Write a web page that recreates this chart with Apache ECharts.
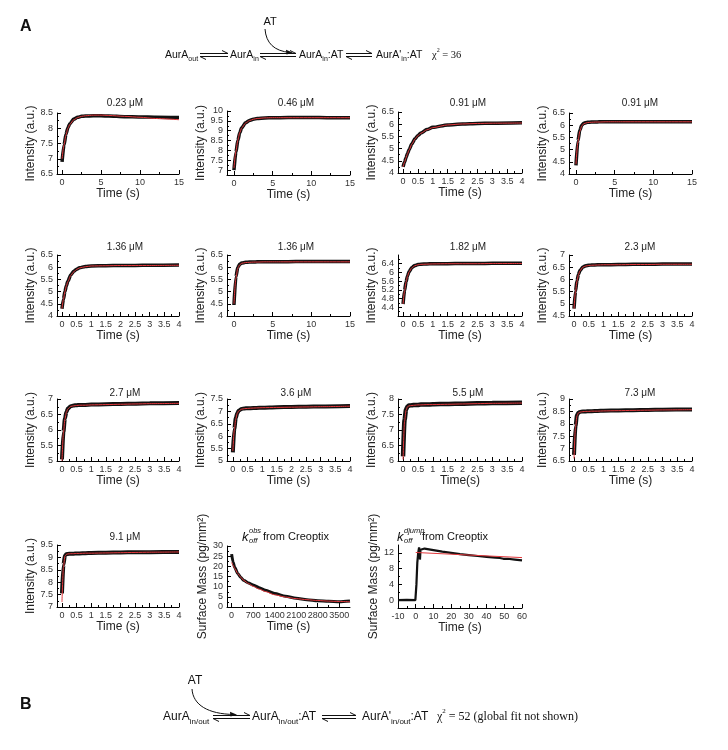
<!DOCTYPE html>
<html><head><meta charset="utf-8">
<script src="https://cdn.jsdelivr.net/npm/echarts@6/dist/echarts.min.js"></script>
<style>html,body{margin:0;padding:0;background:#fff}#c{width:728px;height:750px}</style>
</head><body><div id="c"></div>
<script>
// ---------- time bases ----------
const t15 = [0, 0.25, 0.5, 0.75, 1, 1.5, 2, 2.5, 3, 4, 5, 6, 8, 10, 12, 15];
const t4 = [0, 0.05, 0.1, 0.15, 0.2, 0.3, 0.4, 0.5, 0.6, 0.8, 1, 1.5, 2, 2.5, 3, 4];
const tCreo = [0, 50, 100, 200, 300, 400, 550, 700, 900, 1100, 1400, 1750, 2100, 2450, 2800, 3150, 3500, 3850];
const tJump = [-10, -5, -0.2, 0.4, 0.9, 1.4, 1.9, 2.2, 2.4, 2.7, 3.2, 5, 10, 15, 20, 25, 30, 35, 40, 45, 47.5, 48.5, 49.5, 52, 56, 60];
const tJumpFit = [0, 60];

// ---------- panel titles ----------
const concLabels = ['0.23 μM', '0.46 μM', '0.91 μM', '0.91 μM', '1.36 μM', '1.36 μM', '1.82 μM', '2.3 μM', '2.7 μM', '3.6 μM', '5.5 μM', '7.3 μM', '9.1 μM'];

// ---------- measured traces (black) and fits (red) ----------
const data023 = [6.9, 7.45, 7.8, 8.02, 8.15, 8.3, 8.36, 8.39, 8.4, 8.41, 8.41, 8.4, 8.38, 8.37, 8.36, 8.35];
const fit023  = [7.0, 7.45, 7.78, 8.0, 8.13, 8.28, 8.35, 8.39, 8.41, 8.43, 8.43, 8.42, 8.39, 8.36, 8.32, 8.28];
const data046 = [7.0, 7.9, 8.5, 8.9, 9.15, 9.4, 9.52, 9.58, 9.62, 9.65, 9.66, 9.66, 9.67, 9.67, 9.66, 9.66];
const fit046  = [7.1, 7.95, 8.52, 8.9, 9.14, 9.39, 9.51, 9.58, 9.62, 9.65, 9.66, 9.66, 9.66, 9.66, 9.66, 9.66];
const data091a = [4.25, 4.45, 4.63, 4.8, 4.95, 5.2, 5.4, 5.54, 5.64, 5.78, 5.87, 5.97, 6.01, 6.03, 6.04, 6.06];
const fit091a  = [4.25, 4.44, 4.62, 4.79, 4.94, 5.19, 5.39, 5.53, 5.63, 5.77, 5.86, 5.97, 6.01, 6.03, 6.04, 6.05];
const data091b = [4.35, 5.35, 5.8, 6.0, 6.08, 6.12, 6.13, 6.13, 6.14, 6.14, 6.14, 6.14, 6.14, 6.14, 6.14, 6.14];
const fit091b  = [4.4, 5.3, 5.75, 5.97, 6.06, 6.11, 6.12, 6.13, 6.13, 6.14, 6.14, 6.14, 6.14, 6.14, 6.14, 6.14];
const data136a = [4.3, 4.69, 5.0, 5.24, 5.42, 5.68, 5.83, 5.92, 5.98, 6.03, 6.05, 6.06, 6.07, 6.07, 6.08, 6.09];
const fit136a  = [4.3, 4.68, 4.99, 5.23, 5.41, 5.66, 5.81, 5.91, 5.97, 6.02, 6.05, 6.06, 6.07, 6.07, 6.07, 6.08];
const data136b = [4.45, 5.6, 6.0, 6.12, 6.17, 6.2, 6.21, 6.21, 6.22, 6.22, 6.22, 6.22, 6.23, 6.23, 6.23, 6.23];
const fit136b  = [4.5, 5.55, 5.97, 6.1, 6.16, 6.19, 6.2, 6.21, 6.21, 6.22, 6.22, 6.22, 6.22, 6.22, 6.22, 6.22];
const data182 = [4.55, 5.16, 5.57, 5.84, 6.03, 6.23, 6.32, 6.36, 6.38, 6.39, 6.4, 6.4, 6.41, 6.41, 6.42, 6.42];
const fit182  = [4.55, 5.14, 5.55, 5.83, 6.02, 6.22, 6.31, 6.35, 6.37, 6.38, 6.39, 6.4, 6.4, 6.4, 6.41, 6.41];
const data23 = [4.8, 5.51, 5.94, 6.2, 6.36, 6.51, 6.56, 6.58, 6.59, 6.6, 6.6, 6.61, 6.62, 6.62, 6.63, 6.63];
const fit23  = [4.8, 5.49, 5.92, 6.19, 6.35, 6.5, 6.55, 6.57, 6.58, 6.59, 6.6, 6.6, 6.61, 6.61, 6.62, 6.62];
const data27 = [5.05, 5.93, 6.37, 6.58, 6.69, 6.77, 6.79, 6.8, 6.81, 6.81, 6.82, 6.83, 6.84, 6.85, 6.86, 6.87];
const fit27  = [5.0, 5.9, 6.35, 6.57, 6.68, 6.76, 6.78, 6.79, 6.8, 6.8, 6.81, 6.82, 6.83, 6.84, 6.85, 6.86];
const data36 = [5.35, 6.29, 6.73, 6.93, 7.03, 7.1, 7.12, 7.13, 7.13, 7.14, 7.15, 7.17, 7.18, 7.19, 7.2, 7.22];
const fit36  = [5.4, 6.25, 6.7, 6.92, 7.02, 7.09, 7.11, 7.12, 7.13, 7.14, 7.15, 7.16, 7.17, 7.18, 7.19, 7.21];
const data55 = [6.15, 7.32, 7.66, 7.76, 7.79, 7.8, 7.81, 7.81, 7.82, 7.82, 7.83, 7.84, 7.85, 7.86, 7.87, 7.88];
const fit55  = [6.05, 7.28, 7.64, 7.75, 7.78, 7.79, 7.8, 7.81, 7.81, 7.82, 7.82, 7.83, 7.84, 7.85, 7.86, 7.87];
const data73 = [6.75, 7.9, 8.35, 8.45, 8.48, 8.5, 8.5, 8.51, 8.51, 8.52, 8.53, 8.54, 8.55, 8.56, 8.57, 8.58];
const fit73  = [6.6, 7.85, 8.32, 8.44, 8.47, 8.49, 8.5, 8.5, 8.51, 8.51, 8.52, 8.53, 8.54, 8.55, 8.56, 8.57];
const data91 = [7.55, 8.7, 9.08, 9.13, 9.14, 9.15, 9.15, 9.16, 9.16, 9.17, 9.18, 9.19, 9.2, 9.21, 9.21, 9.22];
const fit91  = [7.2, 8.6, 9.05, 9.12, 9.14, 9.15, 9.15, 9.16, 9.16, 9.17, 9.17, 9.18, 9.19, 9.2, 9.21, 9.22];
const dataCreo = [26, 22, 19.5, 16.5, 14.5, 13, 11.8, 10.8, 9.5, 8.2, 6.6, 5.3, 4.3, 3.6, 3.1, 2.8, 2.6, 3.0];
const fitCreo  = [22, 20.5, 19, 16.5, 14.6, 13, 11.5, 10.2, 8.8, 7.6, 6.0, 4.9, 4.1, 3.6, 3.2, 2.9, 2.7, 2.6];
const dataJump = [0, 0.05, 0, 4, 9.5, 12, 13.4, 12.5, 10.3, 12.8, 13.2, 13.1, 12.7, 12.3, 12.0, 11.7, 11.45, 11.2, 11.0, 10.8, 10.7, 11.1, 10.5, 10.5, 10.3, 10.1];
const fitJump  = [12.1, 10.8];

// ---------- tick labels ----------
const xTicks15 = [0, 5, 10, 15];
const xTicks4 = [0, 0.5, 1, 1.5, 2, 2.5, 3, 3.5, 4];
const xTicksCreo = [0, 700, 1400, 2100, 2800, 3500];
const xTicksJump = [-10, 0, 10, 20, 30, 40, 50, 60];
const yTicks023 = [6.5, 7, 7.5, 8, 8.5];
const yTicks046 = [7, 7.5, 8, 8.5, 9, 9.5, 10];
const yTicks4to65 = [4, 4.5, 5, 5.5, 6, 6.5];
const yTicks182 = [4, 4.4, 4.8, 5.2, 5.6, 6, 6.4, 6.8];
const yTicks23 = [4.5, 5, 5.5, 6, 6.5, 7];
const yTicks27 = [5, 5.5, 6, 6.5, 7];
const yTicks36 = [5, 5.5, 6, 6.5, 7, 7.5];
const yTicks55 = [6, 6.5, 7, 7.5, 8];
const yTicks73 = [6.5, 7, 7.5, 8, 8.5, 9];
const yTicks91 = [7, 7.5, 8, 8.5, 9, 9.5];
const yTicksCreo = [0, 5, 10, 15, 20, 25, 30];
const yTicksJump = [0, 4, 8, 12];

// ---------- layout ----------
const colLeft = [57, 227, 398, 569];
const colRight = [179, 350, 522, 692];
const colTitleX = [125, 296, 468, 640];
const FONT = 'Liberation Sans, Arial, Helvetica, sans-serif';
const SERIF = 'Liberation Serif, Times New Roman, serif';
const INT = 'Intensity (a.u.)';
const SM = 'Surface Mass (pg/mm²)';

const P = [
  {c:0, top:113, bot:174, t:t15, d:data023, f:fit023, xt:xTicks15, xmin:-0.65, xmax:15, yt:yTicks023, ymin:6.5, ymax:8.5, ti:0, ty:103},
  {c:1, top:111, bot:175, t:t15, d:data046, f:fit046, xt:xTicks15, xmin:-0.9, xmax:15, yt:yTicks046, ymin:6.75, ymax:10, ti:1, ty:103},
  {c:2, top:112, bot:173, t:t4, d:data091a, f:fit091a, xt:xTicks4, xmin:-0.17, xmax:4, yt:yTicks4to65, ymin:4, ymax:6.5, ti:2, ty:103},
  {c:3, top:113, bot:174, t:t15, d:data091b, f:fit091b, xt:xTicks15, xmin:-0.9, xmax:15, yt:yTicks4to65, ymin:4, ymax:6.5, ti:3, ty:103},
  {c:0, top:255, bot:316, t:t4, d:data136a, f:fit136a, xt:xTicks4, xmin:-0.17, xmax:4, yt:yTicks4to65, ymin:4, ymax:6.5, ti:4, ty:247},
  {c:1, top:255, bot:316, t:t15, d:data136b, f:fit136b, xt:xTicks15, xmin:-0.9, xmax:15, yt:yTicks4to65, ymin:4, ymax:6.5, ti:5, ty:247},
  {c:2, top:255, bot:316, t:t4, d:data182, f:fit182, xt:xTicks4, xmin:-0.17, xmax:4, yt:yTicks182, ymin:4, ymax:6.8, ti:6, ty:247},
  {c:3, top:255, bot:316, t:t4, d:data23, f:fit23, xt:xTicks4, xmin:-0.17, xmax:4, yt:yTicks23, ymin:4.5, ymax:7, ti:7, ty:247},
  {c:0, top:399, bot:461, t:t4, d:data27, f:fit27, xt:xTicks4, xmin:-0.17, xmax:4, yt:yTicks27, ymin:5, ymax:7, ti:8, ty:393, bw:4},
  {c:1, top:399, bot:461, t:t4, d:data36, f:fit36, xt:xTicks4, xmin:-0.2, xmax:4, yt:yTicks36, ymin:5, ymax:7.5, ti:9, ty:393, bw:4},
  {c:2, top:399, bot:461, t:t4, d:data55, f:fit55, xt:xTicks4, xmin:-0.17, xmax:4, yt:yTicks55, ymin:6, ymax:8, ti:10, ty:393, xname:'Time(s)', bw:4.5},
  {c:3, top:399, bot:461, t:t4, d:data73, f:fit73, xt:xTicks4, xmin:-0.17, xmax:4, yt:yTicks73, ymin:6.5, ymax:9, ti:11, ty:393, bw:4},
  {c:0, top:545, bot:607, t:t4, d:data91, f:fit91, xt:xTicks4, xmin:-0.17, xmax:4, yt:yTicks91, ymin:7, ymax:9.5, ti:12, ty:537, bw:4},
  {c:1, top:546, bot:607, t:tCreo, d:dataCreo, f:fitCreo, xt:xTicksCreo, xmin:-150, xmax:3850, yt:yTicksCreo, ymin:0, ymax:30, yname:SM, bw:3, ng:14},
  {c:2, top:545, bot:608, t:tJump, d:dataJump, tf:tJumpFit, f:fitJump, xt:xTicksJump, xmin:-10, xmax:60, yt:yTicksJump, ymin:-2, ymax:14, yname:SM, bw:2.2, ng:13, xright:522, smooth:0}
];

const fmt = v => String(Math.round(v * 1000) / 1000);
const mids = a => a.slice(0, -1).map((v, i) => (v + a[i + 1]) / 2);
const zip = (a, b) => a.map((v, i) => [v, b[i]]);

const grid = [], xAxis = [], yAxis = [], series = [], graphic = [];

P.forEach((p, i) => {
  const left = colLeft[p.c], right = p.xright || colRight[p.c];
  grid.push({left: left, top: p.top, width: right - left, height: p.bot - p.top, containLabel: false});
  [false, true].forEach(minor => {
    xAxis.push({
      type: 'value', gridIndex: i, position: 'bottom', min: p.xmin, max: p.xmax,
      axisLine: {show: !minor, onZero: false, lineStyle: {color: '#000', width: 1}},
      axisTick: {show: true, inside: true, length: minor ? 2 : 4, customValues: minor ? mids(p.xt) : p.xt, lineStyle: {color: '#000', width: 1}},
      axisLabel: {show: !minor, customValues: p.xt, formatter: fmt, fontSize: 9, color: '#333', margin: 4, fontFamily: FONT},
      splitLine: {show: false},
      name: minor ? '' : (p.xname || 'Time (s)'), nameLocation: 'middle', nameGap: 12,
      nameTextStyle: {fontSize: 12, color: '#222', fontFamily: FONT}
    });
    yAxis.push({
      type: 'value', gridIndex: i, position: 'left', min: p.ymin, max: p.ymax,
      axisLine: {show: !minor, onZero: false, lineStyle: {color: '#000', width: 1}},
      axisTick: {show: true, inside: true, length: minor ? 2 : 4, customValues: minor ? mids(p.yt) : p.yt, lineStyle: {color: '#000', width: 1}},
      axisLabel: {show: !minor, customValues: p.yt, formatter: fmt, fontSize: 9, color: '#333', margin: 4, fontFamily: FONT},
      splitLine: {show: false},
      name: minor ? '' : (p.yname || INT), nameLocation: 'middle', nameGap: p.ng || 15,
      nameTextStyle: {fontSize: 12, color: '#222', fontFamily: FONT}
    });
  });
  const sm = p.smooth === 0 ? false : 0.25;
  series.push({type: 'line', xAxisIndex: 2 * i, yAxisIndex: 2 * i, data: zip(p.t, p.d), showSymbol: false, symbol: 'none',
    smooth: sm, smoothMonotone: 'x', lineStyle: {color: '#111', width: p.bw || 3.5}, silent: true, z: 2});
  series.push({type: 'line', xAxisIndex: 2 * i, yAxisIndex: 2 * i, data: zip(p.tf || p.t, p.f), showSymbol: false, symbol: 'none',
    smooth: sm, smoothMonotone: 'x', lineStyle: {color: '#e2383c', width: 1}, silent: true, z: 3});
  if (p.ti !== undefined) {
    graphic.push({type: 'text', x: colTitleX[p.c], y: p.ty, silent: true,
      style: {text: concLabels[p.ti], fontSize: 10, fontFamily: FONT, fill: '#222', align: 'center', verticalAlign: 'middle', textAlign: 'center', textVerticalAlign: 'middle'}});
  }
});

// ---------- text helpers ----------
function T(x, y, text, size, extra) {
  return {type: 'text', x: x, y: y, silent: true,
    style: Object.assign({text: text, fontSize: size || 12, fontFamily: FONT, fill: '#111', align: 'left', verticalAlign: 'middle', textAlign: 'left', textVerticalAlign: 'middle'}, extra || {})};
}
function richSet(sz) {
  return {
    m: {fontSize: sz, lineHeight: sz * 1.5, verticalAlign: 'middle', fontFamily: FONT, fill: '#111'},
    s: {fontSize: Math.round(sz * 0.68), verticalAlign: 'bottom', fontFamily: FONT, fill: '#111'},
    g: {fontSize: sz, lineHeight: sz * 1.5, verticalAlign: 'middle', fontFamily: SERIF, fill: '#111'},
    p: {fontSize: Math.round(sz * 0.6), verticalAlign: 'top', fontFamily: SERIF, fill: '#111'}
  };
}
function R(x, y, text, sz) { return T(x, y, text, sz, {rich: richSet(sz)}); }
function L(x1, y1, x2, y2) { return {type: 'line', silent: true, shape: {x1: x1, y1: y1, x2: x2, y2: y2}, style: {stroke: '#111', lineWidth: 1}}; }
function EQ(x1, x2, y) {
  return [L(x1, y - 1.5, x2, y - 1.5), L(x2, y - 1.5, x2 - 6, y - 4.5), L(x1, y + 1.5, x2, y + 1.5), L(x1, y + 1.5, x1 + 6, y + 4.5)];
}
function CURVE(x1, y1, cx1, cy1, cx2, cy2, x2, y2) {
  return [
    {type: 'bezierCurve', silent: true, shape: {x1: x1, y1: y1, cpx1: cx1, cpy1: cy1, cpx2: cx2, cpy2: cy2, x2: x2, y2: y2}, style: {stroke: '#111', lineWidth: 1, fill: null}},
    {type: 'polygon', silent: true, shape: {points: [[x2 + 3, y2 + 0.3], [x2 - 4, y2 - 2.8], [x2 - 3.5, y2 + 2]]}, style: {fill: '#111'}}
  ];
}

// panel labels
graphic.push(T(20, 27, 'A', 16, {fontWeight: 'bold'}));
graphic.push(T(20, 705, 'B', 16, {fontWeight: 'bold'}));

// scheme A
const yA = 55, sA = 10.5;
graphic.push(T(270, 22, 'AT', 11, {align: 'center', textAlign: 'center'}));
graphic.push(R(165, yA, '{m|AurA}{s|out}', sA));
graphic.push(...EQ(200, 228, yA));
graphic.push(R(230, yA, '{m|AurA}{s|in}', sA));
graphic.push(...EQ(260, 296, yA));
graphic.push(...CURVE(265, 29, 266, 43, 274, 51, 290, 52.5));
graphic.push(R(299, yA, '{m|AurA}{s|in}{m|:AT}', sA));
graphic.push(...EQ(346, 372, yA));
graphic.push(R(376, yA, "{m|AurA'}{s|in}{m|:AT}", sA));
graphic.push(R(432, yA, '{g|χ}{p|2}{g| = 36}', sA));

// scheme B
const yB = 717, sB = 12;
graphic.push(T(195, 681, 'AT', 12, {align: 'center', textAlign: 'center'}));
graphic.push(R(163, yB, '{m|AurA}{s|in/out}', sB));
graphic.push(...EQ(213, 250, yB));
graphic.push(...CURVE(192, 689, 193, 705, 208, 714, 234, 714.5));
graphic.push(R(252, yB, '{m|AurA}{s|in/out}{m|:AT}', sB));
graphic.push(...EQ(322, 356, yB));
graphic.push(R(362, yB, "{m|AurA'}{s|in/out}{m|:AT}", sB));
graphic.push(R(437, yB, '{g|χ}{p|2}{g| = 52 (global fit not shown)}', sB));

// Creoptix titles: k_off^obs and k_off^djump
function KT(x, y, sup, gap) {
  return [
    T(x, y, 'k', 13, {fontStyle: 'italic'}),
    T(x + 7, y - 6, sup, 7.5, {fontStyle: 'italic'}),
    T(x + 7, y + 4, 'off', 7.5, {fontStyle: 'italic'}),
    T(x + gap, y, 'from Creoptix', 11)
  ];
}
graphic.push(...KT(242, 537, 'obs', 21));
graphic.push(...KT(397, 537, 'djump', 25));

const chart = echarts.init(document.getElementById('c'), null, {renderer: 'canvas', width: 728, height: 750});
chart.setOption({
  animation: false,
  backgroundColor: '#fff',
  grid: grid, xAxis: xAxis, yAxis: yAxis, series: series, graphic: graphic
});
</script>
</body></html>
